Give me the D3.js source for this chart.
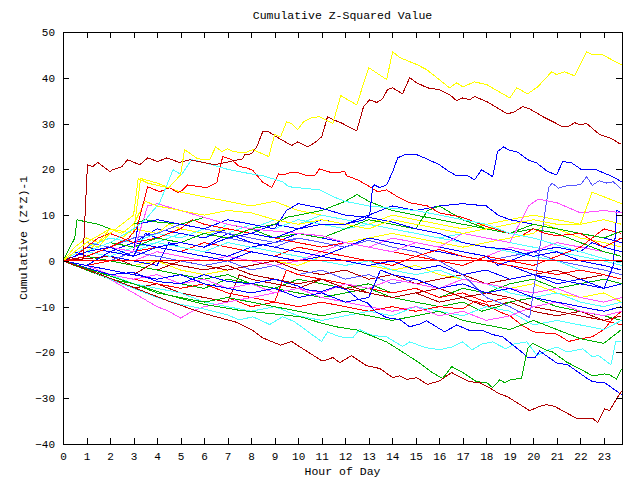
<!DOCTYPE html>
<html>
<head>
<meta charset="utf-8">
<script src="https://cdn.jsdelivr.net/npm/d3@7"></script>
<style>
  body { margin: 0; background: #fff; }
  svg text { font-family: "Liberation Mono", "DejaVu Sans Mono", monospace; fill: #000; }
</style>
</head>
<body>
<div id="chart"></div>
<script>
// AXIS SETUP
var hourTicks = d3.range(0, 24);
var valueTicks = [-40, -30, -20, -10, 0, 10, 20, 30, 40, 50];
var xMax = 23.77;

// COLORS
var cRed = "#ff0000", cGreen = "#00b000", cBlue = "#0000ff", cMagenta = "#ff50ff",
    cCyan = "#50ffff", cDarkRed = "#b00000", cYellow = "#ffff00", cLightBlue = "#5858ff";

// SERIES  [hour, cumulative (z*z)-1]
var yellowTop = [[0,0],[0.5,2],[1,4],[1.5,3],[2,6],[2.5,8],[3,10],[3.2,18],[3.6,17],[4,16.5],[4.5,16],[5,18.8],[5.17,24.3],
  [5.73,22.3],[6.24,22.1],[6.49,24.9],[6.75,23.9],[7,24.5],[7.21,23.9],[7.72,23.6],[8.07,24.3],[8.75,22.8],[9,27.6],
  [9.25,27.1],[9.51,30.4],[9.72,30],[9.98,28.7],[10.23,30.4],[10.57,31.3],[10.91,31.5],[11.47,30],[11.81,36.1],
  [12.49,34.1],[13,42.2],[13.76,39.6],[14.02,45.7],[14.32,44.4],[15.04,42.9],[15.46,41.8],[16.44,37.8],[16.74,38.9],
  [17,38],[17.5,39.1],[18.02,38.5],[19,35.6],[19.29,37.8],[19.76,36.5],[20.18,38],[20.78,41.3],[20.99,40.7],
  [21.33,41.3],[21.76,40.4],[22.27,45.7],[22.52,45],[22.95,45],[23.75,42.8]];

var darkRedTop = [[0,0],[0.28,0.7],[0.85,0.3],[1.04,21],[1.26,20.6],[1.48,21.5],[1.99,19.5],[2.11,19.9],[2.5,20.6],
  [2.75,22.1],[3.26,21],[3.6,22.5],[4.03,21.7],[4.41,22.5],[4.96,21.5],[5.39,22.1],[6.45,21],[7.09,21.7],[7.64,22.3],
  [7.72,23.2],[8.02,23.4],[8.24,24.9],[8.49,28.2],[8.75,28.2],[9.08,27.1],[9.72,25.2],[9.98,26],[10.4,24.9],[10.7,25.8],
  [11,27.1],[11.25,31.5],[11.51,30.8],[11.85,30.1],[12.49,28.4],[12.78,33.7],[13.04,35.2],[13.34,34.6],[13.59,35.4],
  [13.8,37.4],[14.02,37.8],[14.44,36.5],[14.74,40],[15.04,38.9],[15.5,37.8],[16.01,37.4],[16.44,36.3],[16.74,35],
  [17,35.6],[17.29,35.2],[17.5,35.9],[18.02,34.8],[18.44,33.5],[18.91,32.1],[19.21,32.6],[19.55,33.7],[19.84,33.2],
  [20.48,31.3],[20.91,30.2],[21.25,29.3],[21.46,29.3],[21.76,30.2],[21.97,29.7],[22.27,30],[22.82,27.6],[23.33,26.7],
  [23.67,25.6],[23.75,25.5]];

var darkRedBottom = [[0,0],[1.5,-2.8],[3,-5.8],[4.5,-8.8],[6,-11.5],[7.37,-13.4],[8.07,-15.2],[8.49,-16.8],[9,-17.9],
  [9.25,-18.4],[9.72,-17.6],[10.2,-19.2],[11,-21.8],[11.25,-21.6],[11.47,-21.1],[11.77,-22.2],[12.27,-20.7],[12.91,-22.9],
  [13.47,-23.5],[14.02,-25.5],[14.32,-25.1],[14.61,-25.9],[15.04,-25.5],[15.5,-27],[16.01,-26.2],[16.53,-24.4],
  [16.85,-25.3],[17.29,-26.4],[17.72,-26.6],[18.14,-27.7],[18.5,-28.9],[18.91,-29.7],[19.84,-32.7],[20.27,-31.8],
  [20.56,-31.4],[20.91,-31.8],[21.84,-34.4],[22.52,-34.4],[22.74,-35.3],[23.03,-32.3],[23.24,-32.7],[23.75,-28.4]];

var greenBottom = [[0,0],[1.5,-2.5],[3,-5],[4.5,-7.5],[6,-9.5],[7.5,-10.8],[9.2,-11.7],[10.2,-12.3],[10.91,-13.5],
  [11.62,-14.4],[12.49,-15.1],[13.04,-16.2],[13.76,-17.7],[14.44,-19.9],[15.16,-22.3],[15.71,-24.4],[16.14,-25.7],
  [16.53,-23.1],[17,-24.4],[17.59,-26.4],[18.02,-26.6],[18.27,-27.7],[18.57,-26],[18.78,-26.6],[19,-26],[19.5,-25.6],
  [19.76,-19.1],[19.97,-18],[20.56,-19.5],[20.82,-19.9],[21.42,-22.1],[22.27,-24.4],[22.52,-25.1],[23.03,-24.7],
  [23.24,-24.9],[23.54,-25.8],[23.75,-23.6]];

var blueBottom = [[0,0],[1,-1.5],[2,-3],[3,-2.5],[4,-4.5],[5,-5],[6,-3],[7,-4.5],[8,-5],[9,-4],[10,-5.5],[10.36,-6.3],
  [11,-6.7],[11.6,-5.6],[12.06,-6.3],[12.6,-8.5],[12.95,-9.2],[13.3,-11.1],[13.76,-12.4],[14.32,-12.8],[14.74,-14.4],
  [15.16,-13.8],[15.46,-13.1],[16.23,-15.5],[16.74,-14],[17.29,-15.2],[17.84,-15.2],[18.27,-16.1],[18.7,-16.6],
  [19.55,-20.1],[19.76,-21.2],[20.06,-21.2],[20.27,-19.7],[20.99,-22.3],[21.46,-22.7],[22.27,-25.6],[22.52,-26.4],
  [23.03,-26.6],[23.75,-29.2]];

var cyanBottom = [[0,0],[1,-1.8],[2,-4],[3,-6],[4,-8],[5,-9.5],[6,-10.5],[7,-11.8],[7.5,-12.9],[8.07,-12.2],[8.79,-13.9],
  [9.34,-12.2],[9.85,-13.3],[10.48,-15.7],[11,-17.6],[11.25,-15.5],[11.77,-16.6],[12.32,-16.8],[12.61,-15],[13.17,-16.3],
  [13.76,-16.6],[14.44,-18.7],[14.74,-17.7],[15.46,-19],[16.01,-19.4],[16.55,-18.8],[16.99,-17.7],[17.4,-19.4],
  [17.84,-18.1],[18.27,-17.7],[18.83,-19.2],[19.21,-18.1],[19.72,-17.7],[20.16,-20.7],[20.57,-19.6],[21,-18.8],
  [21.42,-19.9],[22.1,-19.2],[22.5,-20.9],[22.78,-20.7],[23.3,-22.7],[23.5,-17.7],[23.75,-17.5]];

var bluePeak = [[0,0],[1,2],[2,3],[3,1],[4,3],[5,4],[6,3],[7,5],[8,6],[9,5],[10,7],[11,8],[12,8],[12.8,9],[13.04,10],
  [13.17,16.2],[13.25,16.6],[13.46,16],[13.76,16.6],[14.02,19.5],[14.23,22.5],[14.53,23.2],[15.04,23.2],[15.46,22.3],
  [16.01,21],[16.36,19.7],[16.74,18.6],[17.21,18.6],[17.5,17.7],[17.8,19.9],[18.27,18.4],[18.48,23.9],[18.74,24.9],
  [19,24.1],[19.29,23.9],[19.76,22.1],[20.14,21.4],[20.61,19.5],[20.99,18.8],[21.25,21.7],[21.63,21.4],[22.06,19.9],
  [22.69,19.9],[22.95,19.3],[23.37,18.4],[23.75,17.3]];

var cyanUpper = [[0,0],[1,2],[2,4],[3,7],[3.5,9],[4.1,12.6],[4.68,19.9],[5.04,18.8],[5.47,22.1],[6,21.5],[7,20],[8,19],
  [8.5,18.6],[9.34,17.3],[9.6,16.2],[10.91,15.5],[11.5,14],[12,13],[13,12],[14,11.5],[15,11],[16,10],[17,9],[18,8],
  [19,6],[20,5],[21,3.5],[22,2],[23,0.5],[23.75,-0.5]];

var redUpper = [[0,0],[1,1],[2,3],[2.8,5],[3.14,7.2],[3.6,16.2],[4.11,15.1],[4.54,16],[4.88,14.9],[5.09,15.5],[5.3,16.6],
  [6.11,16],[6.54,17.1],[6.79,22.8],[7.17,22.1],[7.5,20.6],[7.81,20.3],[8.07,19.8],[8.49,17.2],[8.88,16],[9.17,19],
  [9.38,18.8],[9.68,19.3],[9.98,19.3],[10.4,18.6],[10.7,18.6],[10.91,20.1],[11.47,19.2],[11.98,19.5],[12.06,18.6],
  [12.53,17.7],[13.04,16.2],[13.38,15.1],[13.76,15.5],[14.23,14],[14.74,12.7],[15.5,12],[16,10.5],[17,9.5],[18,7.5],
  [19,6],[19.5,5.5],[20,7],[20.5,6],[21,5.5],[22,6],[22.5,4.5],[23,3],[23.75,5]];

var yellowA = [[0,0],[0.5,3],[1,5],[1.5,4],[2,7],[2.5,6],[3,8],[3.5,13],[4,12],[5,11],[6,10],[7,11],[8,10.5],[9,9],[10,8],
  [11,9],[12,8],[13,7],[14,9],[15,8],[16,7],[17,6],[18,7],[19,8],[20,9],[21,8],[22,8],[22.5,15],[23,14],[23.75,12.5]];
var magentaA = [[0,0],[1,1],[2,3],[3,2],[3.6,12],[4,12.5],[5,11],[6,9.5],[7,8],[8,7],[9,6.5],[10,6],[11,5.5],[12,4],[13,3],
  [14,2],[15,4],[16,3],[17,6],[18,5],[19,4],[19.8,12],[20.2,13.5],[21,12.7],[22,10.5],[23,11],[23.75,10.5]];
var blueA = [[0,0],[0.5,2],[1,1],[2,3],[3,2],[3.2,8],[4,9],[5,8],[6,7],[7,9],[8,8],[9,7],[9.5,11],[10,12.5],[11,11.5],
  [12,10],[13,9.5],[14,8.5],[15,7],[16,6],[17,4],[18,3],[19,2.5],[20,1],[21,2],[22,0],[23,-1],[23.75,-2]];
var greenA = [[0,0],[0.5,5],[0.6,9],[1,8.5],[1.5,8],[2,7],[2.5,6],[3,8],[3.5,9],[4,8.5],[5,8],[6,9.5],[7,8],[8,7],[9,5],
  [10,6],[11,5],[12,7],[13,9],[14,8],[15,7],[15.5,11],[16,12],[17,9],[18,7],[19,6],[20,8],[21,7],[22,6],[23,5],[23.75,6.5]];
var greenB = [[0,0],[1,2],[2,4],[3,3],[4,5],[5,4],[6,6],[7,5],[8,7],[9,8],[9.5,9.5],[10,10],[11,11],[12,13],[12.5,14.5],
  [13,13],[14,11],[15,10],[16,9],[17,8],[18,7],[19,6],[20,7],[21,6],[22,4],[23,2],[23.75,1]];
var redA = [[0,0],[0.5,1],[1,3],[1.5,5],[2,6],[2.5,5],[3,4],[4,5],[5,7],[5.5,9],[6,8],[7,7],[8,6],[9,5],[10,4],[11,3],
  [12,4],[13,3],[14,2],[15,1],[16,2.5],[17,1],[18,0],[19,-1],[20,-2],[21,-3],[22,-2],[23,-3],[23.75,-4]];
var lightBlueA = [[0,0],[1,4],[2,3],[3,5],[4,6],[5,8],[6,7],[7,6],[8,5],[9,4],[10,5],[11,4],[12,3],[13,4.5],[14,3],[15,2],
  [16,0],[17,-3],[18,-8],[19,-10],[19.84,-12.4],[20.65,16],[20.8,17],[21.06,15.9],[21.5,16.5],[22,16.6],[22.27,18.4],
  [22.5,16.5],[22.8,17.5],[23.1,17],[23.4,17.3],[23.75,15.6]];
var yellowB = [[0,0],[1,2],[2,6],[2.5,5],[3,7],[4,6],[4.5,8],[5,7],[6,6],[7,7],[8,6],[9,5],[10,6],[11,5],[12,4],[13,5],
  [14,6],[15,5],[16,4],[17,3],[18,4],[19,5],[20,6],[20.5,8],[21,7],[22,5],[23,4],[23.75,3]];
var cyanA = [[0,0],[1,3],[2,5],[3,4],[4,6],[5,5],[6,7],[7,6],[8,8],[9,7],[10,9],[11,8],[12,7],[13,8],[14,7],[15,6],[16,5],
  [17,4],[18,3],[19,2],[20,1],[21,0],[22,-2],[23,-3],[23.75,-4]];
var blueB = [[0,0],[1,-1],[2,2],[3,1],[3.5,6],[4,5],[5,4],[6,3],[7,6],[7.5,5],[8,4],[9,3],[10,2],[11,1],[12,3],[13,5],
  [14,4],[15,3],[16,2],[17,1],[18,0],[19,-1],[20,-3],[21,-4],[22,-5],[23,-6],[23.75,-5]];
var darkRedA = [[0,0],[1,-1],[2,-2],[3,-3],[4,0],[5,-1],[6,-2],[7,-1],[8,-3],[9,-4],[10,-5],[11,-4],[12,-6],[13,-7],[14,-8],
  [15,-7],[16,-6],[17,-8],[18,-7],[19,-8],[20,-10],[21,-11],[22,-12],[23,-13],[23.75,-12]];
var greenC = [[0,0],[1,-2],[2,-4],[3,-5],[4,-7],[5,-8],[6,-9],[7,-8],[8,-9],[9,-10],[10,-11],[11,-12],[12,-11],[13,-12],
  [14,-13],[15,-12],[16,-11],[17,-13],[18,-14],[19,-15],[20,-13],[21,-15],[22,-17],[23,-18],[23.75,-15]];
var magentaB = [[0,0],[1,-2],[2,-4],[3,-7],[4,-10],[4.5,-11],[5,-12.5],[5.5,-11],[6,-10],[7,-9],[8,-8],[9,-7],[10,-6],
  [11,-7],[12,-5],[13,-6],[14,-4],[15,-5],[16,-6],[17,-4],[18,-5],[19,-6],[20,-7],[21,-6],[22,-8],[23,-9],[23.75,-8]];
var cyanB = [[0,0],[1,-2],[2,-3],[3,-5],[4,-6],[5,-7],[6,-9],[7,-10],[8,-11],[9,-10],[10,-12],[11,-13],[12,-12],[13,-11],
  [14,-12],[15,-10],[16,-11],[17,-12],[18,-10],[19,-11],[20,-14],[21,-13],[22,-14],[23,-15],[23.75,-13]];
var redB = [[0,0],[1,-1],[2,-3],[3,-4],[4,-5],[5,-6],[6,-5],[7,-7],[8,-8],[9,-9],[9.5,-2],[10,-3],[11,-4],[12,-5],[13,-6],
  [14,-7],[15,-6],[16,-8],[17,-7],[18,-9],[19,-8],[20,-10],[21,-11],[22,-12],[23,-13],[23.75,-14]];
var redC = [[0,0],[1,-2],[2,-3],[3,-5],[4,-6],[5,-7],[6,-9],[7,-8],[8,-10],[9,-9],[10,-10],[11,-9],[12,-10],[13,-11],
  [14,-10],[15,-11],[16,-10],[17,-10.5],[17.5,-8.8],[18,-9.5],[18.5,-11],[19,-12],[19.5,-14],[20,-15.5],[21,-16],
  [21.5,-17.6],[22,-17],[22.5,-16.6],[23,-15],[23.4,-12.5],[23.75,-11]];
var greenD = [[0,0],[1,1],[2,0],[3,-1],[4,-2],[5,-3],[6,-4],[7,-3],[8,-5],[9,-6],[10,-7],[11,-8],[12,-7],[13,-6],[14,-8],
  [15,-9],[16,-10],[17,-9],[17.8,-11],[18.5,-10],[19,-9],[20,-8],[21,-10],[22,-11],[23,-12],[23.75,-13]];
var blueC = [[0,0],[1,3],[2,2],[3,4],[4,3],[5,2],[6,1],[7,0],[8,2],[9,1],[10,0],[11,1],[12,0],[13,-1],[14,0],[15,-2],
  [16,-1],[17,-3],[18,-2],[19,-4],[20,-3],[21,-5],[22,-4],[23,-6],[23.4,-1],[23.55,11],[23.75,10.5]];
var darkRedB = [[0,0],[1,-2],[2,-4],[3,-6],[4,-5],[5,-7],[6,-8],[7,-9],[7.5,-3],[8,-4],[9,-5],[10,-6],[11,-4],[12,-5],
  [13,-7],[14,-8],[15,-7],[16,-9],[17,-8],[18,-10],[19,-9],[20,-11],[21,-12],[22,-11],[23,-13],[23.75,-14]];
var cyanC = [[0,0],[1,2],[2,1],[3,3],[4,4],[5,3],[6,2],[7,4],[8,3],[9,2],[10,1],[11,0],[12,-1],[13,0],[14,-2],[15,-3],
  [16,-2],[17,-4],[18,-5],[19,-7],[20,-8],[21,-7],[22,-9],[23,-10],[23.75,-9]];
var magentaC = [[0,0],[1,2],[2,1],[3,0],[4,2],[5,1],[6,0],[7,1],[8,0],[9,-1],[10,0],[11,2],[12,4],[13,3],[14,5],[15,4],
  [16,3],[17,2],[18,1],[19,3],[20,2],[21,4],[22,3],[23,2],[23.75,1]];
var lightBlueB = [[0,0],[1,1],[2,0],[3,2],[4,1],[5,0],[6,-1],[7,0],[8,-2],[9,-1],[10,-3],[11,-2],[12,-4],[13,-3],[14,-5],
  [15,-4],[16,-6],[17,-5],[18,-7],[19,-6],[20,-8],[21,-9],[22,-10],[23,-11],[23.75,-10]];
var yellowC = [[0,0],[1,1],[2,0],[3,-1],[4,0],[5,-2],[6,-3],[7,-2],[8,-1],[9,0],[10,-1],[11,1],[12,0],[13,-1],[14,-2],
  [15,-1],[16,-3],[17,-4],[18,-5],[19,-6],[20,-5],[21,-7],[22,-8],[23,-7],[23.75,-9]];
var blueD = [[0,0],[1,2],[2,1],[3,0],[4,-1],[4.5,4],[5,3],[6,2],[7,1],[8,3],[9,4],[10,6],[11,5],[12,4],[13,3],[14,2],
  [15,4],[16,3],[17,2],[18,1],[18.5,-1],[19,0],[20,2],[21,3],[22,2],[22.5,4],[23,3],[23.75,2]];
var redD = [[0,0],[1,-1],[2,0],[3,2],[4,3],[5,2],[6,4],[7,3],[8,2],[9,1],[10,3],[11,2],[12,1],[13,0],[14,-1],[15,1],
  [16,0],[17,-1],[18,1],[19,0],[20,-1],[21,1],[22,3],[23,7],[23.75,6]];
var greenE = [[0,0],[1,-1],[2,-3],[3,-4],[4,-3],[5,-5],[6,-6],[7,-4],[8,-5],[9,-6],[10,-4],[11,-5],[12,-6],[13,-5],
  [14,-7],[15,-6],[16,-8],[17,-6],[18,-7],[19,-5],[20,-4],[21,-6],[22,-5],[23,-4],[23.75,-5]];
var darkRedC = [[0,0],[1,0.5],[2,1],[3,-1],[4,-2],[5,0],[6,-1],[7,-2],[8,-1],[9,0],[10,-2],[11,-3],[12,-2],[13,-4],
  [14,-3],[15,-5],[16,-4],[17,-3],[18,-5],[19,-4],[20,-3],[21,-2],[22,-4],[23,-3],[23.75,-4]];
var cyanD = [[0,0],[1,1],[2,3],[3,2],[4,4],[5,6],[6,5],[7,8],[8,7],[9,9],[10,8],[11,10],[12,9],[13,8],[14,7],[15,6],
  [16,5],[17,6],[18,5],[19,4],[20,3],[21,2],[22,1],[23,0],[23.75,-1]];
var lightBlueC = [[0,0],[1,2],[2,4],[3,3],[4,5],[5,4],[6,6],[7,5],[8,4],[9,3],[10,5],[11,4],[12,3],[13,5],[14,4],[15,3],
  [16,2],[17,1],[18,0],[19,1],[20,2],[21,0],[22,-1],[23,-2],[23.75,-3]];
var blueE = [[0,0],[1,-1],[2,-2],[3,-3],[4,-4],[5,-3],[6,-5],[7,-6],[8,-7],[9,-6],[10,-8],[11,-7],[12,-9],[13,-8],
  [13.5,-2],[14,-3],[15,-4],[16,-6],[17,-5],[18,-7],[19,-6],[20,-8],[21,-9],[22,-10],[23,-11],[23.75,-10]];
var magentaD = [[0,0],[1,-1],[2,-3],[3,-4],[4,-3],[5,-5],[6,-4],[7,-6],[8,-5],[9,-7],[10,-6],[11,-8],[12,-9],[13,-10],
  [14,-11],[15,-10],[16,-12],[17,-11],[18,-13],[19,-12],[20,-10],[21,-9],[22,-11],[23,-12],[23.75,-11]];
var blueF = [[0,0],[1,3],[2,5],[3,4],[4,7],[5,6],[6,5],[7,7],[8,6],[9,8],[10,7],[11,9],[12,8],[13,10],[14,12],[15,11],
  [16,12],[17,12.5],[18,12],[18.5,10],[19,9],[20,8],[21,7],[22,6],[23,5],[23.75,4]];
var yellowD = [[0,0],[1,4],[2,7],[3,6],[3.3,18],[4,17],[4.5,16],[5,15],[6,14],[7,13],[8,12],[9,13],[10,11],[11,10],
  [12,9],[13,8],[14,10],[15,9],[16,8],[17,7],[18,8],[19,9],[20,10],[21,9],[22,8],[23,9],[23.75,8]];
var zeroLine = [[0,0],[23.77,0]];

var series = [
  [yellowD, cYellow], [cyanD, cCyan], [blueF, cBlue], [lightBlueC, cLightBlue], [magentaC, cMagenta],
  [yellowB, cYellow], [yellowC, cYellow], [darkRedC, cDarkRed], [greenE, cGreen], [redD, cRed],
  [blueD, cBlue], [lightBlueB, cLightBlue], [cyanC, cCyan], [darkRedB, cDarkRed], [blueC, cBlue],
  [greenD, cGreen], [redC, cRed], [redB, cRed], [cyanB, cCyan], [magentaB, cMagenta], [greenC, cGreen],
  [darkRedA, cDarkRed], [blueB, cBlue], [cyanA, cCyan], [lightBlueA, cLightBlue], [redA, cRed],
  [greenB, cGreen], [greenA, cGreen], [blueA, cBlue], [magentaA, cMagenta], [yellowA, cYellow],
  [magentaD, cMagenta], [blueE, cBlue],
  [redUpper, cRed], [cyanUpper, cCyan], [bluePeak, cBlue], [cyanBottom, cCyan], [blueBottom, cBlue],
  [greenBottom, cGreen], [darkRedBottom, cDarkRed], [darkRedTop, cDarkRed], [yellowTop, cYellow],
  [zeroLine, cRed]
];

// CHART
var W = 640, H = 480;
var plotL = 63, plotR = 622, plotT = 32, plotB = 444;

var svg = d3.select("#chart").append("svg")
  .attr("width", W).attr("height", H);

var x = d3.scaleLinear().domain([0, xMax]).range([plotL, plotR]);
var y = d3.scaleLinear().domain([-40, 50]).range([plotB, plotT]);

var line = d3.line()
  .x(function(d) { return x(d[0]); })
  .y(function(d) { return y(d[1]); });

svg.append("g").selectAll("path")
  .data(series)
  .enter().append("path")
  .attr("d", function(s) { return line(s[0]); })
  .attr("fill", "none")
  .attr("stroke", function(s) { return s[1]; })
  .attr("stroke-width", 1)
  .attr("shape-rendering", "crispEdges");

// axes with inward ticks on all four sides
function styleAxis(g) {
  g.select(".domain").remove();
  g.selectAll("line").attr("stroke", "#000").attr("shape-rendering", "crispEdges");
  g.selectAll("text").attr("font-size", "11px")
    .attr("font-family", "'Liberation Mono', monospace");
}

svg.append("g").attr("transform", "translate(0," + plotB + ")")
  .call(d3.axisBottom(x).tickValues(hourTicks).tickSize(-6).tickPadding(8).tickFormat(d3.format("d")))
  .call(styleAxis);
svg.append("g").attr("transform", "translate(0," + plotT + ")")
  .call(d3.axisTop(x).tickValues(hourTicks).tickSize(-6).tickFormat(""))
  .call(styleAxis);
svg.append("g").attr("transform", "translate(" + plotL + ",0)")
  .call(d3.axisLeft(y).tickValues(valueTicks).tickSize(-6).tickPadding(8).tickFormat(d3.format("d")))
  .call(styleAxis);
svg.append("g").attr("transform", "translate(" + plotR + ",0)")
  .call(d3.axisRight(y).tickValues(valueTicks).tickSize(-6).tickFormat(""))
  .call(styleAxis);

svg.append("rect")
  .attr("x", plotL + 0.5).attr("y", plotT + 0.5)
  .attr("width", plotR - plotL).attr("height", plotB - plotT)
  .attr("fill", "none").attr("stroke", "#000").attr("stroke-width", 1);

svg.append("text")
  .attr("x", (plotL + plotR) / 2).attr("y", 16)
  .attr("text-anchor", "middle").attr("dominant-baseline", "middle")
  .attr("font-size", "11.5px")
  .text("Cumulative Z-Squared Value");

svg.append("text")
  .attr("x", (plotL + plotR) / 2).attr("y", 472)
  .attr("text-anchor", "middle").attr("dominant-baseline", "middle")
  .attr("font-size", "11.5px")
  .text("Hour of Day");

svg.append("text")
  .attr("transform", "translate(24," + ((plotT + plotB) / 2) + ") rotate(-90)")
  .attr("text-anchor", "middle").attr("dominant-baseline", "middle")
  .attr("font-size", "11.5px")
  .text("Cumulative (Z*Z)-1");
</script>
</body>
</html>
